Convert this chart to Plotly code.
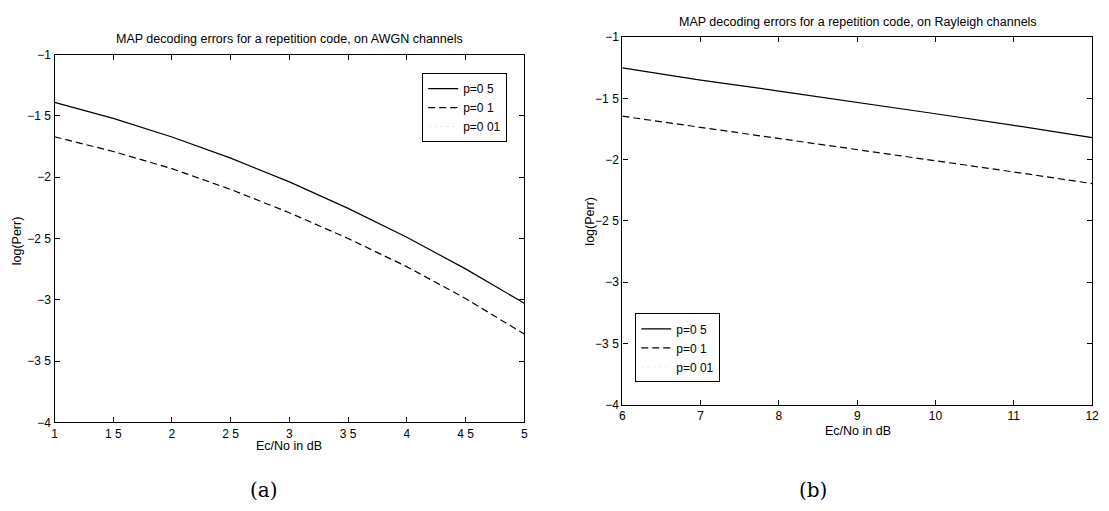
import plotly.graph_objects as go

# ---- data (a) AWGN ----
awgn_x = [1, 1.5, 2, 2.5, 3, 3.5, 4, 4.5, 5]
awgn_p05 = [-1.39, -1.52, -1.672, -1.844, -2.038, -2.254, -2.49, -2.748, -3.028]
awgn_p01 = [-1.67, -1.79, -1.93, -2.10, -2.29, -2.50, -2.73, -2.99, -3.28]

# ---- data (b) Rayleigh ----
ray_x = [6, 7, 8, 9, 10, 11, 12]
ray_p05 = [-1.25, -1.35, -1.44, -1.53, -1.625, -1.72, -1.82]
ray_p01 = [-1.645, -1.735, -1.825, -1.915, -2.005, -2.10, -2.195]

legend_names = ["p=0 5", "p=0 1", "p=0 01"]
awgn_xticks = [1, 1.5, 2, 2.5, 3, 3.5, 4, 4.5, 5]
awgn_xticktext = ["1", "1 5", "2", "2 5", "3", "3 5", "4", "4 5", "5"]
ray_xticks = [6, 7, 8, 9, 10, 11, 12]
yticks = [-1, -1.5, -2, -2.5, -3, -3.5, -4]
yticktext = ["\u22121", "\u22121 5", "\u22122", "\u22122 5", "\u22123", "\u22123 5", "\u22124"]

W, H = 1109, 511
FONT = "Liberation Sans, Arial, sans-serif"

def px_x(p):
    return p / W

def px_y(p):
    return 1 - p / H

fig = go.Figure()

line_solid = dict(color="black", width=1.2)
line_dash = dict(color="black", width=1.2, dash="7px,4px")
line_dot = dict(color="rgba(0,0,0,0.08)", width=1, dash="dot")

# left
fig.add_trace(go.Scatter(x=awgn_x, y=awgn_p05, mode="lines", line=line_solid,
                         name=legend_names[0], xaxis="x", yaxis="y", legend="legend"))
fig.add_trace(go.Scatter(x=awgn_x, y=awgn_p01, mode="lines", line=line_dash,
                         name=legend_names[1], xaxis="x", yaxis="y", legend="legend"))
fig.add_trace(go.Scatter(x=[None], y=[None], mode="lines", line=line_dot,
                         name=legend_names[2], xaxis="x", yaxis="y", legend="legend"))
# right
fig.add_trace(go.Scatter(x=ray_x, y=ray_p05, mode="lines", line=line_solid,
                         name=legend_names[0], xaxis="x2", yaxis="y2", legend="legend2"))
fig.add_trace(go.Scatter(x=ray_x, y=ray_p01, mode="lines", line=line_dash,
                         name=legend_names[1], xaxis="x2", yaxis="y2", legend="legend2"))
fig.add_trace(go.Scatter(x=[None], y=[None], mode="lines", line=line_dot,
                         name=legend_names[2], xaxis="x2", yaxis="y2", legend="legend2"))

axis_common = dict(showline=True, linecolor="black", linewidth=1.3, mirror="allticks",
                   ticks="inside", ticklen=5, tickcolor="black", tickwidth=1,
                   showgrid=False, zeroline=False,
                   tickfont=dict(family=FONT, size=12, color="black"))

fig.update_layout(
    width=W, height=H,
    margin=dict(l=0, r=0, t=0, b=0),
    paper_bgcolor="white", plot_bgcolor="white",
    font=dict(family=FONT, size=12, color="black"),
    xaxis=dict(domain=[px_x(52), px_x(526)], range=[1, 5], anchor="y",
               tickvals=awgn_xticks, ticktext=awgn_xticktext, **axis_common),
    yaxis=dict(domain=[px_y(427), px_y(49)], range=[-4, -1], anchor="x",
               tickvals=yticks, ticktext=yticktext, **axis_common),
    xaxis2=dict(domain=[px_x(625), px_x(1099)], range=[6, 12], anchor="y2",
                tickvals=ray_xticks, **axis_common),
    yaxis2=dict(domain=[px_y(409), px_y(31)], range=[-4, -1], anchor="x2",
                tickvals=yticks, ticktext=yticktext, **axis_common),
    legend=dict(x=px_x(423), y=px_y(68), xanchor="left", yanchor="top",
                bordercolor="black", borderwidth=1, bgcolor="white",
                font=dict(family=FONT, size=12), tracegroupgap=0),
    legend2=dict(x=px_x(638), y=px_y(315), xanchor="left", yanchor="top",
                 bordercolor="black", borderwidth=1, bgcolor="white",
                 font=dict(family=FONT, size=12), tracegroupgap=0),
    showlegend=True,
)

ann = []
def text(x, y, s, size=12.5, angle=0, family=FONT):
    ann.append(dict(x=px_x(x), y=px_y(y), xref="paper", yref="paper", text=s,
                    showarrow=False, xanchor="center", yanchor="middle",
                    textangle=angle, font=dict(family=family, size=size, color="black")))

text(289, 33, "MAP decoding errors for a repetition code, on AWGN channels")
text(863, 15, "MAP decoding errors for a repetition code, on Rayleigh channels")
text(289, 451, "Ec/No in dB")
text(863, 436, "Ec/No in dB")
text(15, 240, "log(Perr)", angle=-90)
text(592, 220, "log(Perr)", angle=-90)
text(263, 497, "(a)", size=20, family="DejaVu Serif, Liberation Serif, serif")
text(817, 497, "(b)", size=20, family="DejaVu Serif, Liberation Serif, serif")
fig.update_layout(annotations=ann)

fig.write_html("out.html")
